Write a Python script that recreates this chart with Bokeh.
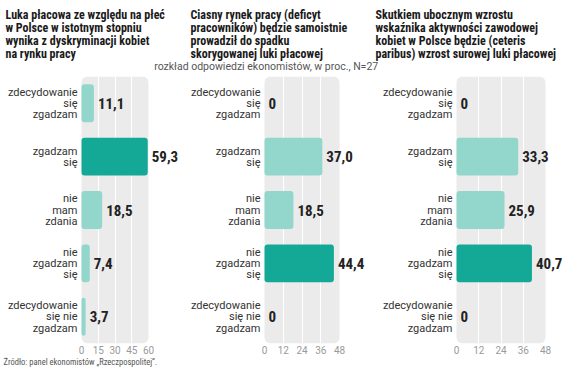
from bokeh.plotting import figure
from bokeh.layouts import column, row
from bokeh.models import Range1d, FactorRange, FixedTicker, BoxAnnotation, ColumnDataSource
from bokeh.core.properties import value
from bokeh.embed import file_html
from bokeh.resources import INLINE

# ---------------- data ----------------
categories = ["zdecydowanie się zgadzam", "zgadzam się", "nie mam zdania",
              "nie zgadzam się", "zdecydowanie się nie zgadzam"]
category_labels = ["zdecydowanie\nsię\nzgadzam", "zgadzam\nsię", "nie\nmam\nzdania",
                   "nie\nzgadzam\nsię", "zdecydowanie\nsię nie\nzgadzam"]

titles = [
    "Luka płacowa ze względu na płeć\nw Polsce w istotnym stopniu\nwynika z dyskryminacji kobiet\nna rynku pracy",
    "Ciasny rynek pracy (deficyt\npracowników) będzie samoistnie\nprowadził  do spadku\nskorygowanej luki płacowej",
    "Skutkiem ubocznym wzrostu\nwskaźnika aktywności zawodowej\nkobiet w Polsce będzie (ceteris\nparibus) wzrost surowej luki płacowej",
]
subtitle = "rozkład odpowiedzi  ekonomistów, w proc., N=27"
source_note = "Źródło: panel ekonomistów „Rzeczpospolitej”."

values_q1 = [11.1, 59.3, 18.5, 7.4, 3.7]
values_q2 = [0, 37.0, 18.5, 44.4, 0]
values_q3 = [0, 33.3, 25.9, 40.7, 0]

ticks_q1 = [0, 15, 30, 45, 60]
ticks_q2 = [0, 12, 24, 36, 48]
ticks_q3 = [0, 12, 24, 36, 48]

# ---------------- style ----------------
LIGHT = "#93d6cb"
DARK = "#14a897"
GRAY = "#ebebeb"
COND = "Roboto Condensed"
REG = "Roboto"
W = 564
HDR_H = 72
FTR_H = 13
CAT_LINE = 11.2      # px between category label lines
TITLE_LINE = 13.2    # px between title lines


def fmt(v):
    return "0" if v == 0 else f"{v:.1f}".replace(".", ",")


def panel(vals, ticks, fig_w, left_px, gray_w):
    scale = gray_w / ticks[-1]          # pixels per unit
    p = figure(frame_width=fig_w, frame_height=267,
               min_border_left=0, min_border_right=0,
               min_border_top=4, min_border_bottom=14,
               x_range=Range1d(-left_px / scale, (fig_w - left_px) / scale),
               y_range=FactorRange(factors=categories[::-1]),
               y_axis_location=None,
               output_backend="svg", toolbar_location=None)
    p.outline_line_color = None
    p.background_fill_color = "white"

    box = BoxAnnotation(left=0, right=ticks[-1], fill_color=GRAY, fill_alpha=1,
                        line_color=None, border_radius=6, level="image")
    p.add_layout(box)

    vmax = max(vals)
    src = ColumnDataSource(dict(
        cat=categories, v=vals, lab=[fmt(v) for v in vals],
        col=[DARK if v == vmax else LIGHT for v in vals]))
    p.hbar(y="cat", left=0, right="v", height=0.71, fill_color="col",
           line_color=None, border_radius=3, source=src)
    p.text(x="v", y="cat", text="lab", x_offset=4, text_baseline="middle",
           text_font=value(COND), text_font_style="bold",
           text_font_size="15px", text_color="#222222", source=src)

    # category labels, one text per line, right aligned
    lc, lt, lo = [], [], []
    for cat, lab in zip(categories, category_labels):
        parts = lab.split("\n")
        n = len(parts)
        for j, part in enumerate(parts):
            lc.append(cat)
            lt.append(part)
            lo.append((j - (n - 1) / 2) * CAT_LINE)
    lsrc = ColumnDataSource(dict(cat=lc, t=lt, off=lo, zero=[0] * len(lc)))
    p.text(x="zero", y="cat", text="t", x_offset=-4, y_offset="off",
           text_align="right", text_baseline="middle", text_font=value(REG),
           text_font_size="11px", text_color="#333333", source=lsrc)

    p.ygrid.visible = False
    p.xgrid.ticker = FixedTicker(ticks=ticks[1:-1])
    p.xgrid.grid_line_color = "white"
    p.xgrid.grid_line_width = 1

    p.xaxis.ticker = FixedTicker(ticks=ticks)
    p.xaxis.axis_line_color = None
    p.xaxis.major_tick_line_color = None
    p.xaxis.minor_tick_line_color = None
    p.xaxis.major_tick_out = 0
    p.xaxis.major_tick_in = 0
    p.xaxis.minor_tick_out = 0
    p.xaxis.minor_tick_in = 0
    p.xaxis.major_label_standoff = 2
    p.xaxis.major_label_text_font = REG
    p.xaxis.major_label_text_font_size = "10px"
    p.xaxis.major_label_text_color = "#9a9a9a"
    return p


p1 = panel(values_q1, ticks_q1, 186, 81, 67)
p2 = panel(values_q2, ticks_q2, 184, 78, 75)
p3 = panel(values_q3, ticks_q3, 194, 86, 89)

# header: titles line by line + subtitle
hdr = figure(width=W, height=HDR_H, x_range=Range1d(0, W), y_range=Range1d(HDR_H, 0),
             min_border=0, x_axis_type=None, y_axis_type=None,
             output_backend="svg", toolbar_location=None)
hdr.outline_line_color = None
hdr.grid.visible = False
tx, ty, tt = [], [], []
for x0, title in zip([5, 190, 375], titles):
    for j, part in enumerate(title.split("\n")):
        tx.append(x0)
        ty.append(14 + j * TITLE_LINE)
        tt.append(part)
hdr.text(x=tx, y=ty, text=tt, text_baseline="middle",
         text_font=value(COND), text_font_style="bold", text_font_size="12px",
         text_color="#1a1a1a")
hdr.text(x=[267], y=[65.5], text=[subtitle], text_align="center", text_baseline="middle",
         text_font=value(REG), text_font_size="10.5px", text_color="#555555")

# footer
ftr = figure(width=W, height=FTR_H, x_range=Range1d(0, W), y_range=Range1d(FTR_H, 0),
             min_border=0, x_axis_type=None, y_axis_type=None,
             output_backend="svg", toolbar_location=None)
ftr.outline_line_color = None
ftr.grid.visible = False
ftr.text(x=[3], y=[4.5], text=[source_note], text_baseline="middle",
         text_font=value(COND), text_font_size="8.5px", text_color="#555555")

layout = column(hdr, row(p1, p2, p3, spacing=0), ftr, spacing=0)
open("out.html", "w").write(file_html(layout, INLINE))
